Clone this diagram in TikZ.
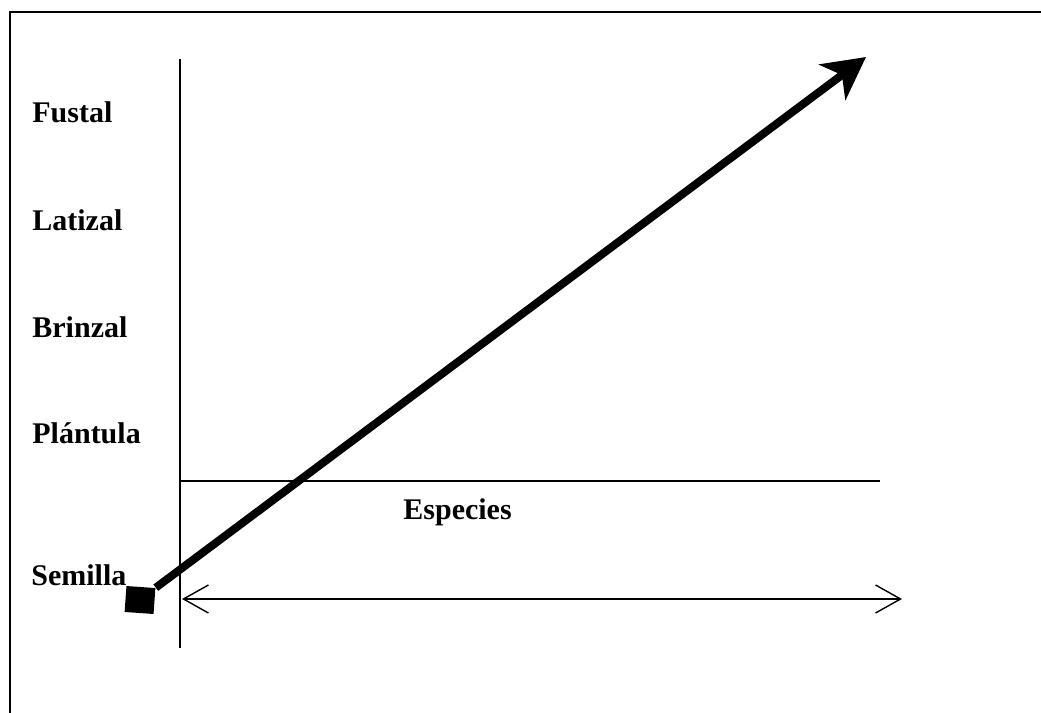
\documentclass[tikz,border=0pt]{standalone}
\usepackage{fontspec}
\setmainfont{Liberation Serif}
\usetikzlibrary{arrows.meta}
\begin{document}
\begin{tikzpicture}[x=0.5pt,y=-0.5pt,
  lbl/.style={anchor=base west,inner sep=0pt,font=\fontsize{15}{18}\selectfont\bfseries},
  thin line/.style={line width=0.75pt},
  growth/.style={line width=4pt,-{Stealth[length=21pt,width=22pt,inset=6pt]}},
  span/.style={line width=0.7pt,{Straight Barb[length=12.5pt,width=14pt,line width=0.7pt]}-{Straight Barb[length=12.5pt,width=14pt,line width=0.7pt]}}]
\useasboundingbox (0,0) rectangle (1041,713);
% frame (left and top only visible)
\coordinate (fTL) at (10,12);
\coordinate (fBL) at (10,713);
\coordinate (fTR) at (1041,12);
\draw[line width=1pt] (fBL) -- (fTL) -- (fTR);
% axes
\coordinate (vTop) at (180,59);
\coordinate (vBot) at (180,648);
\draw[thin line] (vTop) -- (vBot);
\coordinate (hL) at (180,481);
\coordinate (hR) at (880,481);
\draw[thin line] (hL) -- (hR);
% labels
\node[lbl] (fustal) at (32,122) {Fustal};
\node[lbl] (latizal) at (32,230) {Latizal};
\node[lbl] (brinzal) at (32,337) {Brinzal};
\node[lbl] (plantula) at (32,443) {Plántula};
\node[lbl] (semilla) at (31,585) {Semilla};
\node[lbl] (especies) at (403,519) {Especies};
% double arrow
\coordinate (dL) at (182,599);
\coordinate (dR) at (902,599);
\draw[span] (dL) -- (dR);
% seed square and growth arrow
\node[fill=black,minimum width=14.5pt,minimum height=13pt,inner sep=0pt,rotate=-4] (seed) at (140,600) {};
\coordinate (tip) at (866,57);
\draw[growth] (seed.north east) -- (tip);
\end{tikzpicture}
\end{document}
